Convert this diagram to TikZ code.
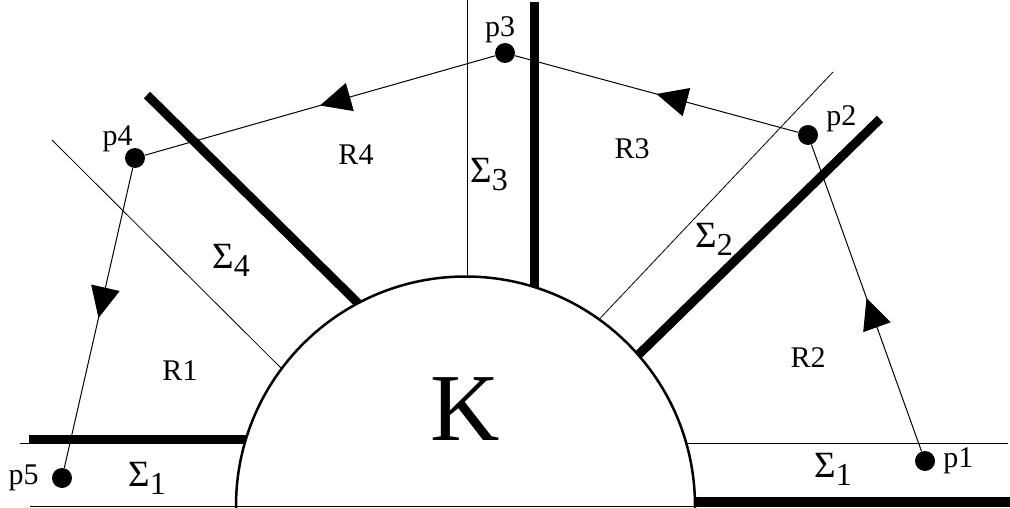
\documentclass[tikz,border=0pt]{standalone}
\usepackage{fontspec}
\setmainfont{Liberation Serif}
\usetikzlibrary{arrows.meta,positioning,decorations.markings}
\newcommand{\sig}[1]{{\fontsize{37}{37}\selectfont Σ}\raisebox{-8pt}{\fontsize{32}{32}\selectfont #1}}

\begin{document}
\begin{tikzpicture}[x=1pt, y=-1pt,
  dot/.style={circle, fill, inner sep=0pt, minimum size=20pt},
  plab/.style={inner sep=0pt, font=\fontsize{30}{30}\selectfont},
  rlab/.style={inner sep=0pt, font=\fontsize{30}{30}\selectfont},
  slab/.style={inner sep=0pt},
  edge/.style={line width=0.8pt},
  cut/.style={line width=9pt},
  walk/.style={line width=1pt, postaction={decorate},
    decoration={markings, mark=at position 0.5 with {\arrow{Triangle[length=31pt,width=29pt]}}}}
]
\useasboundingbox (0,0) rectangle (1010,508);

% strip edges
\draw[edge] (20,443.5) -- (1008,443.5);
\draw[edge] (467,0) -- (467,300);
\draw[edge] (833,72) -- (590,329);
\draw[edge] (52,140) -- (290,377);
% cuts
\draw[cut] (29,439) -- (250,439);
\draw[cut] (690,501) -- (1010,501);
\draw[cut] (534,2) -- (534,300);
\draw[cut] (880,119) -- (630,363);
\draw[cut] (147,95) -- (368,313);

% the body K
\fill[white] (236,506) arc[start angle=180, end angle=360, radius=229.5] -- cycle;
\draw[line width=2.5pt] (236,508) -- (236,506) arc[start angle=180, end angle=360, radius=229.5] -- (695,508);
\draw[edge] (30,506) -- (1010,506);
\node[inner sep=0pt, font=\fontsize{96}{96}\selectfont] (k) at (465,409) {K};

% points and the path
\node[dot] (p1) at (925,461) {};
\node[dot] (p2) at (808,135) {};
\node[dot] (p3) at (505,53) {};
\node[dot] (p4) at (135,158) {};
\node[dot] (p5) at (62,478) {};
\node[plab, right=8pt of p1] (p1lab) {p1};
\node[plab, above right=-4pt and 11pt of p2] (p2lab) {p2};
\node[plab, above=0pt of p3, xshift=-5pt] (p3lab) {p3};
\node[plab, above left=-1pt and -5pt of p4] (p4lab) {p4};
\node[plab, left=13pt of p5] (p5lab) {p5};
\draw[walk] (p1) -- (p2);
\draw[walk] (p2) -- (p3);
\draw[walk] (p3) -- (p4);
\draw[walk] (p4) -- (p5);

% regions
\node[rlab] (r1) at (180,371) {R1};
\node[rlab] (r2) at (808,358) {R2};
\node[rlab] (r3) at (632,149) {R3};
\node[rlab] (r4) at (356,155) {R4};

% strips
\node[slab] (s1a) at (147,478) {\sig{1}};
\node[slab] (s1b) at (833,469) {\sig{1}};
\node[slab] (s2) at (714,239) {\sig{2}};
\node[slab] (s3) at (489,175) {\sig{3}};
\node[slab] (s4) at (231,260) {\sig{4}};
\end{tikzpicture}
\end{document}
